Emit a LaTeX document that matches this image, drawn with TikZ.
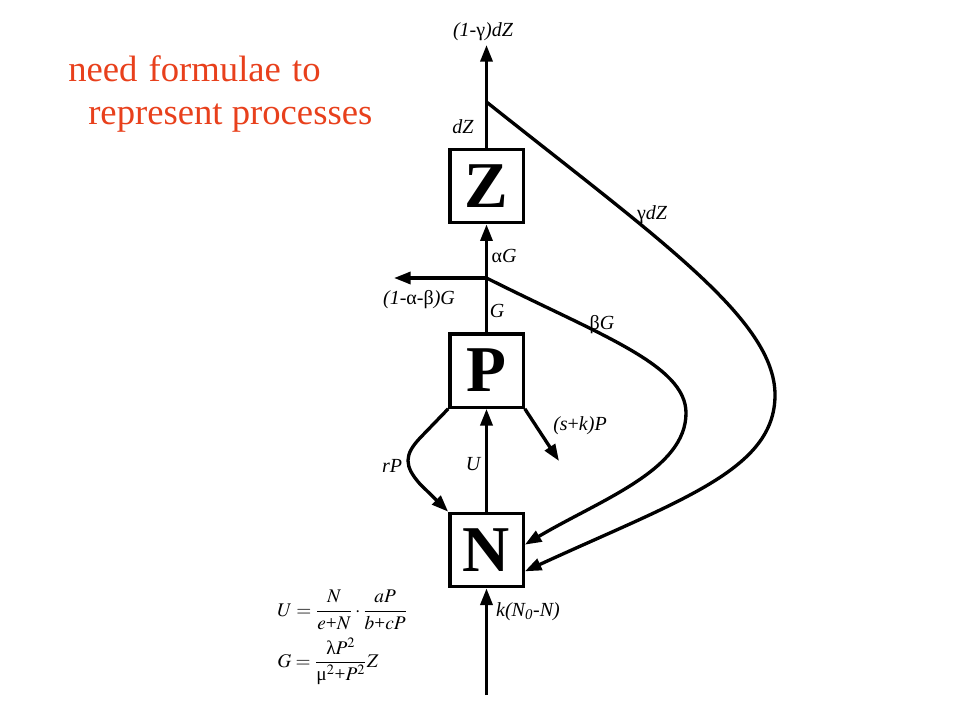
\documentclass[tikz,border=0pt]{standalone}
\usepackage{mathptmx}
\usepackage[no-math]{fontspec}
\setmainfont{Liberation Serif}
\usetikzlibrary{arrows.meta}
\definecolor{redtxt}{RGB}{232,64,28}
\begin{document}
\begin{tikzpicture}[x=0.75pt,y=-0.75pt,
  box/.style={draw, line width=2.5pt, minimum size=55pt, inner sep=0pt,
    font=\fontsize{49}{49}\selectfont\bfseries},
  flow/.style={line width=2.5pt, -{Triangle[length=12.5pt,width=9pt]}},
  plain/.style={line width=2.5pt},
  lab/.style={font=\fontsize{15}{17}\selectfont\itshape, inner sep=1pt},
  red/.style={font=\fontsize{27.5}{30}\selectfont, text=redtxt, anchor=base west, inner sep=0pt}]
\useasboundingbox (0,0) rectangle (960,720);
% boxes
\node[box] (Z) at (486.5,186) {Z};
\node[box] (P) at (486.5,370.5) {P};
\node[box] (N) at (486.5,550) {N};
% junctions and free ends
\coordinate (jZ) at (486.5,102);
\coordinate (top) at (486.5,45);
\coordinate (jG) at (486.5,278);
\coordinate (left) at (394,278);
\coordinate (bot) at (486.5,695);
\coordinate (sk) at (559,461);
\coordinate (nb) at ([yshift=4pt]N.east);
\coordinate (ng) at ([yshift=-16pt]N.east);
% connectors
\draw[plain] (Z.north) -- (jZ);
\draw[flow] (jZ) -- (top);
\draw[flow] (jG) -- (Z.south);
\draw[plain] (P.north) -- (jG);
\draw[flow] (jG) -- (left);
\draw[flow] (N.north) -- (P.south);
\draw[flow] (bot) -- (N.south);
\draw[flow] (P.south east) -- (sk);
\draw[flow] (P.south west) -- (420,438) .. controls (404,455) and (404,466) .. (420,484) -- (N.north west);
\draw[flow] (jG) .. controls (600,335) and (686,365) .. (686,413)
  .. controls (686,470) and (600,500) .. (nb);
\draw[flow] (jZ) .. controls (660,240) and (775,320) .. (775,395)
  .. controls (775,470) and (680,500) .. (ng);
% labels
\node[lab] (l1) at (483,32) {(1-{\upshape γ})dZ};
\node[lab] (l2) at (463,127) {dZ};
\node[lab] (l3) at (504,256) {{\upshape α}G};
\node[lab] (l4) at (419,300) {({1}-{\upshape α}-{\upshape β})G};
\node[lab] (l5) at (497,311) {G};
\node[lab] (l6) at (602,325) {{\upshape β}G};
\node[lab] (l7) at (652,215) {{\upshape γ}dZ};
\node[lab] (l8) at (392,466) {rP};
\node[lab] (l9) at (473,464) {U};
\node[lab] (l10) at (580,426) {({s}{\upshape +}{k})P};
\node[lab] (l11) at (528,612) {k(N\textsubscript{0}-N)};
% formulae
\node[font=\fontsize{14.5}{16}\selectfont, anchor=west, inner sep=0pt] (f1) at (277,610)
  {$\displaystyle U=\frac{N}{e\mbox{+}N}\cdot\frac{aP}{b\mbox{+}cP}$};
\node[font=\fontsize{14.5}{16}\selectfont, anchor=west, inner sep=0pt] (f2) at (277,661)
  {$\displaystyle G=\frac{\mbox{λ}P^{2}}{\mbox{μ}^{2}\mbox{+}P^{2}}Z$};
% red text
\node[red] (t1) at (68,82) {need\hspace{1.5pt} formulae\hspace{1.5pt} to};
\node[red] (t2) at (88,125) {represent processes};
\end{tikzpicture}
\end{document}
